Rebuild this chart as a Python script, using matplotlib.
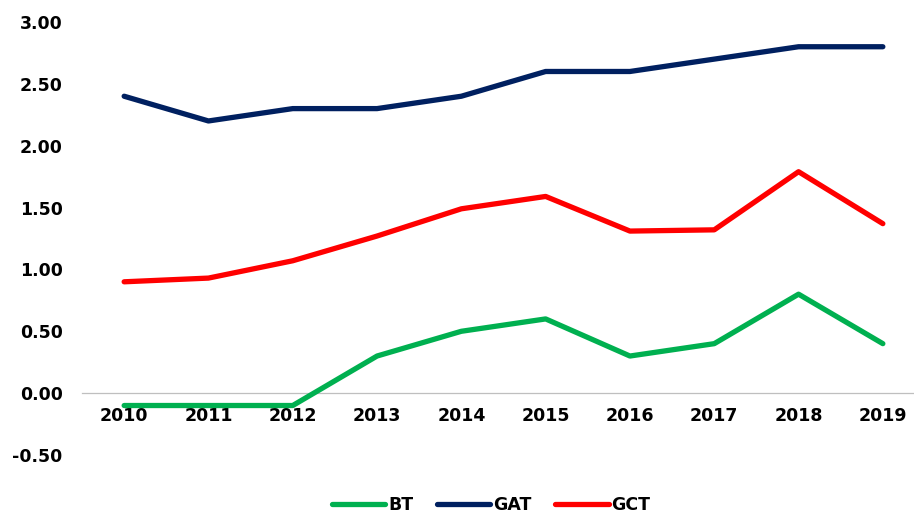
import matplotlib.pyplot as plt

years = ["2010", "2011", "2012", "2013", "2014", "2015", "2016", "2017", "2018", "2019"]
bt = [-0.10, -0.10, -0.10, 0.30, 0.50, 0.60, 0.30, 0.40, 0.80, 0.40]
gat = [2.40, 2.20, 2.30, 2.30, 2.40, 2.60, 2.60, 2.70, 2.80, 2.80]
gct = [0.90, 0.93, 1.07, 1.27, 1.49, 1.59, 1.31, 1.32, 1.79, 1.37]
yticks = [-0.5, 0.0, 0.5, 1.0, 1.5, 2.0, 2.5, 3.0]

fig = plt.figure(figsize=(9.14, 5.16), dpi=100)
ax = fig.add_axes([82 / 914, 1 - 455 / 516, 843 / 914, 433 / 516])

x = list(range(len(years)))
ax.plot(x, bt, color="#00B050", lw=3.8, solid_capstyle="round", solid_joinstyle="round", label="BT")
ax.plot(x, gat, color="#002060", lw=3.8, solid_capstyle="round", solid_joinstyle="round", label="GAT")
ax.plot(x, gct, color="#FF0000", lw=3.8, solid_capstyle="round", solid_joinstyle="round", label="GCT")

for s in ["top", "right", "left"]:
    ax.spines[s].set_visible(False)
ax.spines["bottom"].set_position(("data", 0))
ax.spines["bottom"].set_color("#bfbfbf")
ax.spines["bottom"].set_linewidth(0.9)
ax.spines["bottom"].set_linestyle((0, (1, 1)))
ax.spines["bottom"].set_zorder(0)

ax.set_xlim(-0.5, len(years) - 0.5)
ax.set_ylim(-0.5, 3.0)
ax.set_yticks(yticks)
ax.set_yticklabels([f"{v:.2f}" for v in yticks], fontsize=12.5, fontweight="bold")
ax.set_xticks(x)
ax.set_xticklabels(years, fontsize=12.5, fontweight="bold")
ax.tick_params(axis="both", length=0)
ax.tick_params(axis="y", pad=14)
ax.tick_params(axis="x", pad=10)

leg = fig.legend(loc="center", bbox_to_anchor=(491 / 914, 1 - 505 / 516), ncol=3,
                 frameon=False, handlelength=3.1, handletextpad=0.15, columnspacing=1.35,
                 prop={"size": 12.5, "weight": "bold"})

fig.savefig("out.png", dpi=100)
